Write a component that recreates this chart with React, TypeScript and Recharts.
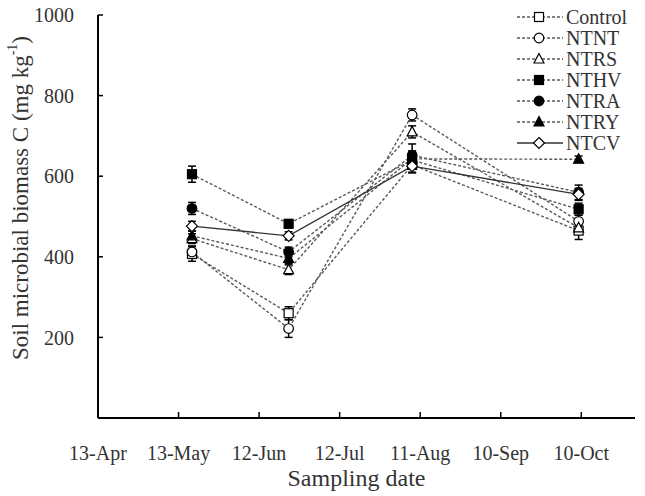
import { LineChart, Line, XAxis, YAxis, ErrorBar } from "recharts";

// sampling days, counted from 13-Apr
const sampleDays = [35, 71, 117, 179];

const tickDays = [0, 30, 60, 90, 120, 150, 180];
const tickLabels = ["13-Apr", "13-May", "12-Jun", "12-Jul", "11-Aug", "10-Sep", "10-Oct"];
const yTicks = [200, 400, 600, 800, 1000];

// soil microbial biomass C (mg/kg) and standard errors per treatment
const controlC = [407, 260, 628, 465];
const controlErr = [18, 16, 20, 22];
const ntntC = [412, 222, 752, 488];
const ntntErr = [15, 22, 15, 15];
const ntrsC = [445, 368, 710, 472];
const ntrsErr = [12, 12, 15, 15];
const nthvC = [605, 482, 640, 518];
const nthvErr = [20, 10, 20, 15];
const ntraC = [520, 412, 652, 560];
const ntraErr = [15, 12, 28, 18];
const ntryC = [452, 396, 643, 642];
const ntryErr = [12, 12, 20, 8];
const ntcvC = [476, 452, 625, 555];
const ntcvErr = [12, 10, 15, 15];

type Kind = "square" | "circle" | "triangle" | "diamond";

const series = [
  { key: "Control", values: controlC, errs: controlErr, kind: "square" as Kind, filled: false, solid: false },
  { key: "NTNT", values: ntntC, errs: ntntErr, kind: "circle" as Kind, filled: false, solid: false },
  { key: "NTRS", values: ntrsC, errs: ntrsErr, kind: "triangle" as Kind, filled: false, solid: false },
  { key: "NTHV", values: nthvC, errs: nthvErr, kind: "square" as Kind, filled: true, solid: false },
  { key: "NTRA", values: ntraC, errs: ntraErr, kind: "circle" as Kind, filled: true, solid: false },
  { key: "NTRY", values: ntryC, errs: ntryErr, kind: "triangle" as Kind, filled: true, solid: false },
  { key: "NTCV", values: ntcvC, errs: ntcvErr, kind: "diamond" as Kind, filled: false, solid: true },
];

const rows = sampleDays.map((day, i) => {
  const row: Record<string, number> = { day };
  series.forEach((s) => {
    row[s.key] = s.values[i];
    row[s.key + "_err"] = s.errs[i];
  });
  return row;
});

const FONT = "'Liberation Serif', 'Times New Roman', serif";
const DASH_COLOR = "#5a5a5a";

const Marker = ({ kind, filled, cx, cy }: { kind: Kind; filled: boolean; cx: number; cy: number }) => {
  const fill = filled ? "#000" : "#fff";
  const common = { fill, stroke: "#000", strokeWidth: 1.2 };
  if (kind === "square") return <rect x={cx - 4.5} y={cy - 4.5} width={9} height={9} {...common} />;
  if (kind === "circle") return <circle cx={cx} cy={cy} r={4.8} {...common} />;
  if (kind === "triangle")
    return <polygon points={`${cx},${cy - 5.5} ${cx + 5},${cy + 4} ${cx - 5},${cy + 4}`} {...common} />;
  return <polygon points={`${cx},${cy - 5.5} ${cx + 5.5},${cy} ${cx},${cy + 5.5} ${cx - 5.5},${cy}`} {...common} />;
};

// legend box in the upper right corner of the plot
const LegendBox = () => (
  <svg width={135} height={160} style={{ position: "absolute", left: 510, top: 0 }}>
    {series.map((s, i) => {
      const cy = 17 + i * 21;
      return (
        <g key={s.key}>
          <line
            x1={7}
            x2={53}
            y1={cy}
            y2={cy}
            stroke={s.solid ? "#333" : DASH_COLOR}
            strokeWidth={1.4}
            strokeDasharray={s.solid ? undefined : "3 2"}
          />
          <Marker kind={s.kind} filled={s.filled} cx={29} cy={cy} />
          <text x={56} y={cy} dominantBaseline="central" fontFamily={FONT} fontSize={20} fill="#333">
            {s.key}
          </text>
        </g>
      );
    })}
  </svg>
);

const YTitle = ({ viewBox }: any) => {
  const cx = 20;
  const cy = viewBox.y + 183;
  return (
    <text
      x={cx}
      y={cy}
      transform={`rotate(-90 ${cx} ${cy})`}
      textAnchor="middle"
      dominantBaseline="central"
      fontFamily={FONT}
      fontSize={23}
      fill="#333"
    >
      Soil microbial biomass C (mg kg
      <tspan dy={-8} fontSize={14}>-1</tspan>
      <tspan dy={8}>)</tspan>
    </text>
  );
};

const XTitle = ({ viewBox }: any) => (
  <text
    x={viewBox.x + viewBox.width / 2 - 10}
    y={viewBox.y + 60}
    textAnchor="middle"
    dominantBaseline="central"
    fontFamily={FONT}
    fontSize={24}
    fill="#333"
  >
    Sampling date
  </text>
);

const App = () => {
  return (
    <div style={{ position: "absolute", left: 0, top: 0, width: 645, height: 496, background: "#fff" }}>
      <LineChart width={645} height={496} data={rows} margin={{ top: 15, right: 10, bottom: 0, left: 0 }}>
        <XAxis
          type="number"
          dataKey="day"
          domain={[0, 200]}
          ticks={tickDays}
          interval={0}
          tickFormatter={(v: number) => tickLabels[tickDays.indexOf(v)]}
          height={78}
          tickSize={-6}
          tickMargin={34}
          axisLine={{ stroke: "#000", strokeWidth: 2 }}
          tickLine={{ stroke: "#000", strokeWidth: 1.5 }}
          tick={{ fill: "#333", fontSize: 20, fontFamily: FONT }}
          label={<XTitle />}
        />
        <YAxis
          type="number"
          domain={[0, 1000]}
          ticks={yTicks}
          interval={0}
          width={98}
          tickSize={-5}
          tickMargin={29}
          axisLine={{ stroke: "#000", strokeWidth: 2 }}
          tickLine={{ stroke: "#000", strokeWidth: 1.5 }}
          tick={{ fill: "#333", fontSize: 20, fontFamily: FONT }}
          label={<YTitle />}
        />
        {series.map((s) => (
          <Line
            key={s.key}
            dataKey={s.key}
            name={s.key}
            type="linear"
            stroke={s.solid ? "#333" : DASH_COLOR}
            strokeWidth={1.4}
            strokeDasharray={s.solid ? undefined : "3 2"}
            isAnimationActive={false}
            dot={(p: any) => (
              <Marker key={`${s.key}-${p.index}`} kind={s.kind} filled={s.filled} cx={p.cx} cy={p.cy} />
            )}
            activeDot={false}
          >
            <ErrorBar dataKey={s.key + "_err"} direction="y" width={4} stroke="#000" strokeWidth={1.5} />
          </Line>
        ))}
      </LineChart>
      <LegendBox />
    </div>
  );
};

export default App;
